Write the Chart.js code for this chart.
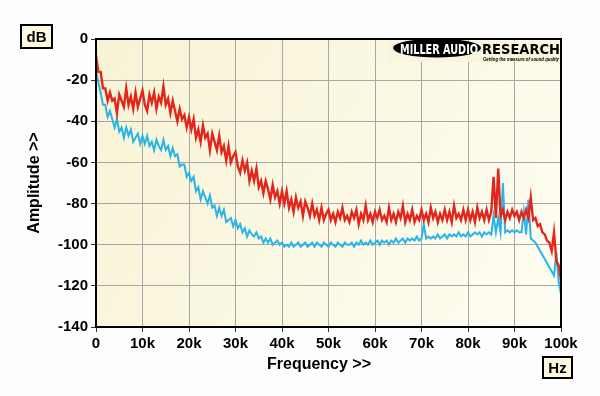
<!DOCTYPE html>
<html>
<head>
<meta charset="utf-8">
<script src="https://cdn.jsdelivr.net/npm/chart.js@4/dist/chart.umd.min.js"></script>
<style>
  html, body { margin: 0; padding: 0; background: #fdfdfd; }
  #wrap { width: 600px; height: 396px; }
</style>
</head>
<body>
<div id="wrap"><canvas id="spectrum" width="600" height="396"></canvas></div>
<script>
// Eje de frecuencia: un punto cada 0.5 kHz, de 0 a 100 kHz
const freqK = Array.from({ length: 201 }, (_, i) => i * 0.5);

const redDb = [
  -8, -16, -16, -24, -24, -30, -26, -30, -29, -36,
  -27, -30, -33, -24, -32, -28, -34, -26, -33, -29,
  -25, -32, -35, -27, -31, -26, -34, -28, -31, -23,
  -32, -29, -36, -30, -35, -40, -34, -39, -37, -43,
  -38, -44, -39, -48, -44, -50, -42, -48, -46, -54,
  -46, -50, -54, -47, -55, -52, -59, -52, -60, -57,
  -55, -62, -65, -59, -64, -60, -69, -64, -69, -63,
  -72, -69, -75, -69, -73, -78, -71, -77, -74, -80,
  -74, -80, -74, -82, -78, -84, -77, -82, -79, -86,
  -79, -82, -86, -80, -86, -83, -88, -82, -88, -85,
  -83, -88, -85, -89, -84, -87, -82, -88, -86, -89,
  -84, -87, -83, -90, -85, -88, -81, -88, -85, -89,
  -84, -87, -83, -88, -86, -89, -82, -88, -85, -89,
  -84, -87, -81, -89, -85, -88, -83, -89, -86, -88,
  -83, -88, -85, -89, -82, -87, -84, -89, -85, -88,
  -83, -88, -84, -89, -81, -87, -85, -88, -83, -88,
  -83, -88, -84, -89, -82, -87, -84, -88, -83, -88,
  -84, -67, -87, -63, -86, -83, -88, -84, -87, -83,
  -86, -84, -88, -84, -87, -83, -87, -77, -88, -87,
  -91, -90, -94, -95, -98, -99, -103, -94, -108, -110, -117
];

// Canal azul (dB)
const blueDb = [
  -16, -21, -26, -32, -32, -38, -35, -39, -43, -39,
  -45, -43, -48, -43, -47, -44, -50, -48, -46, -51,
  -47, -51, -47, -52, -50, -54, -49, -52, -54, -49,
  -54, -52, -57, -53, -57, -56, -62, -61, -61, -67,
  -65, -69, -67, -74, -72, -78, -74, -77, -80, -76,
  -82, -81, -86, -82, -86, -83, -89, -88, -87, -91,
  -88, -92, -90, -94, -92, -96, -93, -95, -96, -94,
  -97, -96, -99, -97, -99, -97, -100, -99, -98, -100,
  -99, -101, -100, -101, -99, -101, -100, -99, -101, -100,
  -99, -101, -100, -99, -101, -99, -100, -101, -99, -100,
  -101, -99, -100, -101, -99, -100, -101, -99, -100, -100,
  -99, -101, -99, -100, -98, -100, -99, -100, -98, -100,
  -99, -98, -100, -98, -99, -98, -100, -98, -99, -97,
  -99, -98, -97, -99, -97, -98, -97, -98, -96, -98,
  -97, -90, -97, -96, -97, -96, -97, -95, -97, -96,
  -95, -97, -95, -96, -95, -96, -94, -96, -95, -96,
  -94, -96, -95, -94, -95, -94, -96, -94, -95, -94,
  -95, -86, -94, -87, -94, -70, -94, -93, -94, -93,
  -94, -93, -94, -94, -84, -95, -78, -97, -98, -99,
  -101, -103, -105, -107, -109, -111, -113, -115, -104, -118, -124
];

const FONT = '"Liberation Sans", Arial, sans-serif';
const cream = "#f9f5dc";

// texto ajustado a un ancho fijo
function fitText(ctx, text, x, y, width, font, color) {
  ctx.save();
  ctx.font = font;
  ctx.fillStyle = color;
  ctx.textAlign = "left";
  ctx.textBaseline = "alphabetic";
  const w = ctx.measureText(text).width;
  ctx.translate(x, y);
  ctx.scale(width / w, 1);
  ctx.fillText(text, 0, 0);
  ctx.restore();
}

function drawBox(ctx, text, x, y, w, h) {
  ctx.save();
  ctx.fillStyle = "#fcf9e0";
  ctx.fillRect(x, y, w, h);
  ctx.lineWidth = 2;
  ctx.strokeStyle = "#000";
  ctx.strokeRect(x, y, w, h);
  ctx.fillStyle = "#000";
  ctx.font = "bold 15px " + FONT;
  ctx.textAlign = "center";
  ctx.textBaseline = "middle";
  ctx.fillText(text, x + w / 2, y + h / 2 + 1);
  ctx.restore();
}

// Fondo degradado del area del grafico
const plotBackground = {
  id: "plotBackground",
  beforeDraw(chart) {
    const { ctx, chartArea: a } = chart;
    const grad = ctx.createLinearGradient(a.left, a.top, a.right, a.bottom);
    grad.addColorStop(0, "#f8f3d4");
    grad.addColorStop(1, "#fefdf2");
    ctx.save();
    ctx.fillStyle = grad;
    ctx.fillRect(a.left, a.top, a.right - a.left, a.bottom - a.top);
    ctx.restore();
  },
  afterDatasetsDraw(chart) {
    const { ctx, chartArea: a } = chart;
    ctx.save();
    ctx.lineWidth = 2;
    ctx.strokeStyle = "#000";
    ctx.strokeRect(a.left, a.top, a.right - a.left, a.bottom - a.top);
    ctx.restore();
  },
  afterDraw(chart) {
    const ctx = chart.ctx;
    drawBox(ctx, "dB", 21, 25, 31, 23);
    drawBox(ctx, "Hz", 543, 357, 29, 21);

    // Logo
    ctx.save();
    ctx.fillStyle = cream;
    ctx.fillRect(388, 41, 171, 21);
    ctx.beginPath();
    ctx.ellipse(437, 48, 44, 9.5, 0, 0, Math.PI * 2);
    ctx.fillStyle = "#000";
    ctx.fill();
    ctx.restore();
    fitText(ctx, "MILLER AUDIO", 400, 53.5, 78, "bold 14px \"DejaVu Sans\"", "#fff");
    fitText(ctx, "RESEARCH", 482, 53.5, 78, "bold 14px \"DejaVu Sans\"", "#000");
    fitText(ctx, "Getting the measure of sound quality", 483, 60.5, 76, "italic bold 5px " + FONT, "#000");

    // titulo del eje X (un poco a la izquierda del centro, como el original)
    ctx.save();
    ctx.fillStyle = "#000";
    ctx.font = "bold 16px " + FONT;
    ctx.textAlign = "center";
    ctx.textBaseline = "middle";
    ctx.fillText("Frequency >>", 319, 365);
    ctx.restore();
  },
};

const toPoints = (arr) => arr.map((v, i) => ({ x: freqK[i], y: v }));

const chart = new Chart(document.getElementById("spectrum"), {
  type: "line",
  data: {
    datasets: [
      {
        label: "red",
        data: toPoints(redDb),
        borderColor: "#e3261c",
        borderWidth: 2.4,
        pointRadius: 0,
        tension: 0,
      },
      {
        label: "blue",
        data: toPoints(blueDb),
        borderColor: "#2cb4e6",
        borderWidth: 2,
        pointRadius: 0,
        tension: 0,
      },
    ],
  },
  options: {
    responsive: false,
    animation: false,
    devicePixelRatio: 1,
    layout: { padding: { left: 0, top: 39, right: 39, bottom: 0 } },
    plugins: {
      legend: { display: false },
      tooltip: { enabled: false },
    },
    scales: {
      x: {
        type: "linear",
        min: 0,
        max: 100,
        afterFit: (s) => { s.height = 69; },
        ticks: {
          stepSize: 10,
          color: "#000",
          font: { family: FONT, size: 15, weight: "bold" },
          maxRotation: 0,
          padding: 3,
          callback: (v) => (v === 0 ? "0" : v + "k"),
        },
        grid: { color: "#a6a6a6", lineWidth: 1, tickLength: 5, tickColor: "#333" },
        border: { color: "#000", width: 2 },
      },
      y: {
        min: -140,
        max: 0,
        afterFit: (s) => { s.width = 96; },
        ticks: {
          stepSize: 20,
          color: "#000",
          font: { family: FONT, size: 15, weight: "bold" },
          padding: 3,
        },
        grid: { color: "#a6a6a6", lineWidth: 1, tickLength: 5, tickColor: "#333" },
        border: { color: "#000", width: 2 },
        title: {
          display: true,
          text: "Amplitude >>",
          color: "#000",
          font: { family: FONT, size: 16, weight: "bold" },
          padding: { top: 25, bottom: 0 },
        },
      },
    },
  },
  plugins: [plotBackground],
});
</script>
</body>
</html>
